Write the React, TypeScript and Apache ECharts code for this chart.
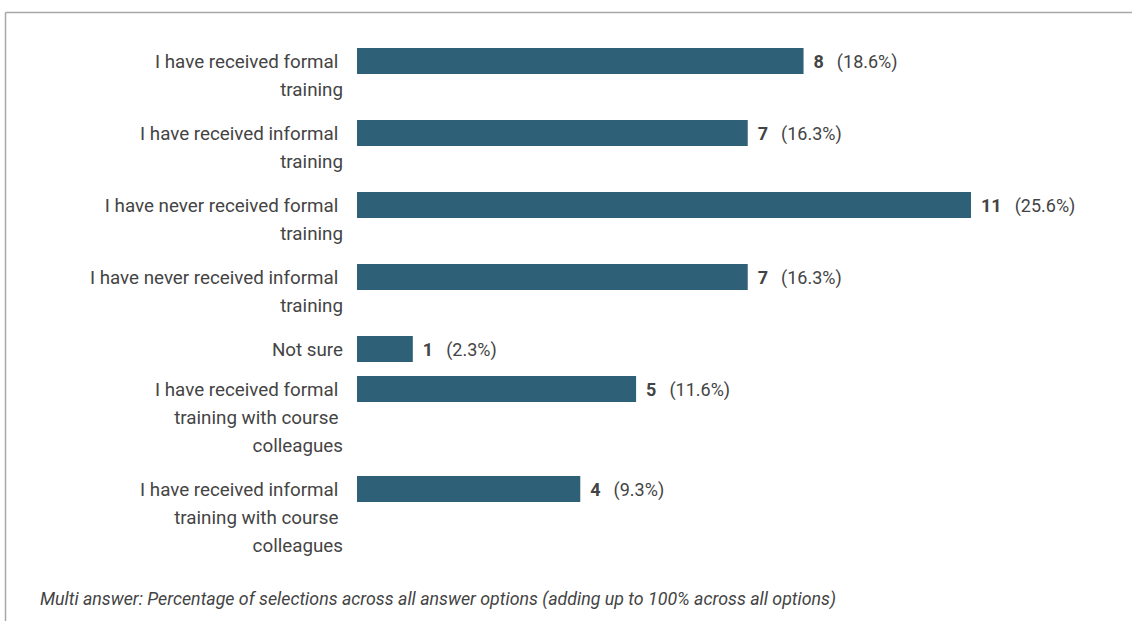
import React, { useEffect, useRef } from "react";
import * as echarts from "echarts";

const categories = [
  "I have received formal \ntraining",
  "I have received informal \ntraining",
  "I have never received formal \ntraining",
  "I have never received informal \ntraining",
  "Not sure",
  "I have received formal \ntraining with course \ncolleagues",
  "I have received informal \ntraining with course \ncolleagues",
];
const counts = [8, 7, 11, 7, 1, 5, 4];
const percents = ["18.6%", "16.3%", "25.6%", "16.3%", "2.3%", "11.6%", "9.3%"];
const footnote =
  "Multi answer: Percentage of selections across all answer options (adding up to 100% across all options)";

const FONT = "Roboto, 'Noto Sans', sans-serif";
const BAR_COLOR = "#2e6078";
const TEXT_COLOR = "#444444";
const LINE_H = 28;
const BAR_H = 26;

// row layout derived from the number of label lines
const rowHeights = categories.map((c) => {
  const lines = c.split("\n").length;
  return LINE_H * lines + (lines > 1 ? 16 : 12);
});
const rowStarts: number[] = [];
rowHeights.reduce((acc, h) => {
  rowStarts.push(acc);
  return acc + h;
}, 0);
const totalHeight = rowHeights.reduce((a, b) => a + b, 0);

export default function App() {
  const ref = useRef<HTMLDivElement>(null);
  useEffect(() => {
    if (!ref.current) return;
    const chart = echarts.init(ref.current, undefined, { renderer: "svg" });
    const data = counts.map((v, i) => [v, rowStarts[i], i]);
    chart.setOption({
      animation: false,
      grid: { left: 357, top: 48, width: 614, height: totalHeight },
      xAxis: { type: "value", min: 0, max: 11, show: false },
      yAxis: { type: "value", inverse: true, min: 0, max: totalHeight, show: false },
      graphic: [
        {
          type: "line",
          shape: { x1: 5.5, y1: 12.5, x2: 1132, y2: 12.5 },
          style: { stroke: "#a8a8a8", lineWidth: 1.5 },
        },
        {
          type: "line",
          shape: { x1: 5.5, y1: 12.5, x2: 5.5, y2: 621 },
          style: { stroke: "#a8a8a8", lineWidth: 1.5 },
        },
        {
          type: "text",
          x: 40,
          y: 598,
          style: {
            text: footnote,
            font: `italic 17.8px ${FONT}`,
            fill: TEXT_COLOR,
            verticalAlign: "middle",
          },
        },
      ],
      series: [
        {
          type: "custom",
          data,
          renderItem: (params: any, api: any) => {
            const idx = api.value(2);
            const start = api.coord([0, api.value(1)]);
            const end = api.coord([api.value(0), api.value(1)]);
            const cy = start[1] + BAR_H / 2;
            return {
              type: "group",
              children: [
                {
                  type: "rect",
                  shape: { x: start[0], y: start[1], width: end[0] - start[0], height: BAR_H },
                  style: { fill: BAR_COLOR },
                },
                {
                  type: "text",
                  x: start[0] - 14,
                  y: cy - LINE_H / 2 + 1,
                  style: {
                    text: categories[idx],
                    font: `18.8px ${FONT}`,
                    fill: TEXT_COLOR,
                    align: "right",
                    verticalAlign: "top",
                    lineHeight: LINE_H,
                  },
                },
                {
                  type: "text",
                  x: end[0] + 10,
                  y: cy,
                  style: {
                    text: `{b|${counts[idx]}}{n|(${percents[idx]})}`,
                    verticalAlign: "middle",
                    align: "left",
                    rich: {
                      b: { font: `bold 18px ${FONT}`, fill: TEXT_COLOR, padding: [0, 13, 0, 0] },
                      n: { font: `18px ${FONT}`, fill: TEXT_COLOR },
                    },
                  },
                },
              ],
            };
          },
        },
      ],
    });
    return () => chart.dispose();
  }, []);
  return (
    <div
      ref={ref}
      style={{ position: "fixed", left: 0, top: 0, width: 1132, height: 621, background: "#fff" }}
    />
  );
}
